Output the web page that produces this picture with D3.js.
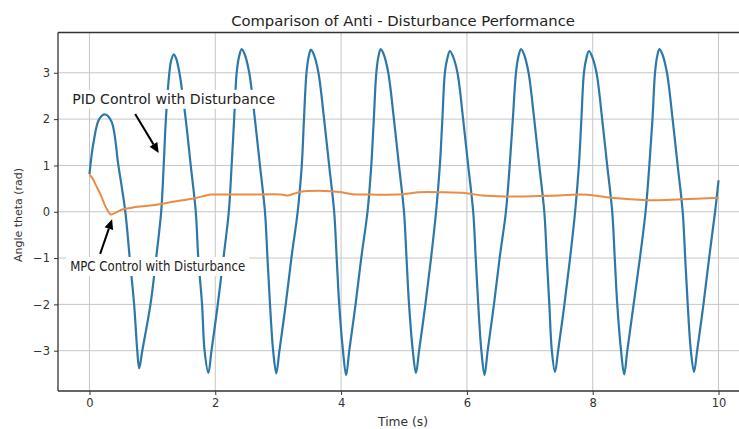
<!DOCTYPE html>
<html><head><meta charset="utf-8">
<script src="https://cdn.jsdelivr.net/npm/d3@7"></script>
<style>body{margin:0;background:#fff}svg{display:block}</style>
</head><body><svg id="c" width="739" height="429"></svg>
<script>
// ---- data ----
const pidTime = [
 0,0.065,0.155,0.25,0.35,0.46,0.57,0.64,0.71,0.76,0.79,
 0.84,0.97,1.06,1.14,1.18,1.215,1.27,1.30,1.34,1.38,1.43,1.53,1.61,1.69,1.73,1.79,1.83,1.89,
 1.94,2.04,2.13,2.215,2.26,2.30,2.34,2.38,2.42,2.47,2.54,2.63,2.71,2.79,2.83,2.87,2.92,2.97,
 3.02,3.12,3.21,3.31,3.375,3.41,3.45,3.485,3.52,3.57,3.64,3.73,3.81,3.89,3.93,3.97,4.03,4.08,
 4.13,4.23,4.32,4.42,4.48,4.52,4.56,4.595,4.63,4.68,4.75,4.84,4.92,5.00,5.04,5.08,5.14,5.19,
 5.24,5.34,5.43,5.51,5.57,5.61,5.65,5.69,5.73,5.78,5.85,5.94,6.02,6.10,6.14,6.18,6.23,6.28,
 6.33,6.43,6.52,6.62,6.68,6.73,6.78,6.82,6.86,6.91,6.98,7.07,7.15,7.23,7.27,7.31,7.35,7.40,
 7.45,7.55,7.64,7.72,7.78,7.82,7.86,7.90,7.94,7.99,8.06,8.15,8.23,8.31,8.35,8.39,8.45,8.50,
 8.55,8.65,8.75,8.84,8.90,8.95,8.99,9.025,9.06,9.11,9.18,9.27,9.35,9.43,9.47,9.51,9.56,9.61,
 9.66,9.76,9.85,9.945,10.0
];
const pidAngle = [
 0.81,1.5,2.0,2.10,1.95,1.0,0.0,-1.0,-2.0,-3.0,-3.38,
 -3.0,-2.0,-1.0,0.0,1.0,2.0,3.0,3.27,3.40,3.30,3.0,2.0,1.0,0.0,-1.0,-2.0,-3.0,-3.48,
 -3.0,-2.0,-1.0,0.0,1.0,2.0,3.0,3.36,3.51,3.39,3.0,2.0,1.0,0.0,-1.0,-2.0,-3.0,-3.49,
 -3.0,-2.0,-1.0,0.0,1.0,2.0,3.0,3.35,3.50,3.38,3.0,2.0,1.0,0.0,-1.0,-2.0,-3.0,-3.53,
 -3.0,-2.0,-1.0,0.0,1.0,2.0,3.0,3.36,3.51,3.39,3.0,2.0,1.0,0.0,-1.0,-2.0,-3.0,-3.48,
 -3.0,-2.0,-1.0,0.0,1.0,2.0,3.0,3.32,3.47,3.35,3.0,2.0,1.0,0.0,-1.0,-2.0,-3.0,-3.53,
 -3.0,-2.0,-1.0,0.0,1.0,2.0,3.0,3.36,3.51,3.39,3.0,2.0,1.0,0.0,-1.0,-2.0,-3.0,-3.46,
 -3.0,-2.0,-1.0,0.0,1.0,2.0,3.0,3.32,3.47,3.35,3.0,2.0,1.0,0.0,-1.0,-2.0,-3.0,-3.51,
 -3.0,-2.0,-1.0,0.0,1.0,2.0,3.0,3.36,3.51,3.39,3.0,2.0,1.0,0.0,-1.0,-2.0,-3.0,-3.46,
 -3.0,-2.0,-1.0,0.0,0.68
];
const mpcTime = [0,0.05,0.10,0.18,0.26,0.34,0.40,0.47,0.55,0.71,1.03,1.35,1.67,1.85,1.93,2.46,3.04,3.10,3.15,3.25,3.36,3.73,3.97,4.18,4.45,4.98,5.24,5.62,5.99,6.25,6.62,7.15,7.47,7.82,8.03,8.29,8.88,9.41,10.0];
const mpcAngle = [0.80,0.72,0.58,0.36,0.10,-0.06,-0.03,0.02,0.06,0.095,0.145,0.22,0.29,0.35,0.37,0.37,0.375,0.36,0.35,0.39,0.43,0.45,0.425,0.38,0.37,0.38,0.42,0.42,0.40,0.35,0.33,0.34,0.35,0.37,0.35,0.30,0.25,0.27,0.30];

const xTicks = [0,2,4,6,8,10];
const yTicks = [-3,-2,-1,0,1,2,3];
const titleText = "Comparison of Anti - Disturbance Performance";
const xLabelText = "Time (s)";
const yLabelText = "Angle theta (rad)";
const annotationLabels = ["PID Control with Disturbance","MPC Control with Disturbance"];
const annotationTextAt = [[-0.275,2.33],[-0.307,-1.28]];
const arrowTail = [[0.727,2.11],[0.17,-0.91]];
const arrowTip = [[1.10,1.27],[0.36,-0.16]];

// ---- layout ----
const L=58, R=750, T=32.5, B=391;
const svg = d3.select("#c");
const x = d3.scaleLinear().domain([-0.5,10.5]).range([L,R]);
const y = d3.scaleLinear().domain([-3.87,3.87]).range([B,T]);
const FONT = "DejaVu Sans, Verdana, sans-serif";
const BLUE = "#2c78a8", ORANGE = "#e98c45";

svg.append("rect").attr("width",739).attr("height",429).attr("fill","#fff");
svg.append("defs").append("clipPath").attr("id","clip")
  .append("rect").attr("x",L).attr("y",T).attr("width",R-L).attr("height",B-T);

// grid
const grid = svg.append("g");
grid.selectAll(".gx").data(xTicks).join("line")
  .attr("x1",d=>x(d)).attr("x2",d=>x(d)).attr("y1",T).attr("y2",B)
  .attr("stroke","#c6c6c6").attr("stroke-width",1);
grid.selectAll(".gy").data(yTicks).join("line")
  .attr("x1",L).attr("x2",R).attr("y1",d=>y(d)).attr("y2",d=>y(d))
  .attr("stroke","#c6c6c6").attr("stroke-width",1);

// lines
const lineGen = d3.line().x(d=>x(d[0])).y(d=>y(d[1])).curve(d3.curveCatmullRom.alpha(0.5));
const pidData = pidTime.map((t,i)=>[t,pidAngle[i]]);
const mpcData = mpcTime.map((t,i)=>[t,mpcAngle[i]]);
const plot = svg.append("g").attr("clip-path","url(#clip)");
plot.append("path").datum(pidData)
  .attr("d",lineGen).attr("fill","none")
  .attr("stroke",BLUE).attr("stroke-width",2.2).attr("stroke-linejoin","round");
plot.append("path").datum(mpcData)
  .attr("d",lineGen).attr("fill","none")
  .attr("stroke",ORANGE).attr("stroke-width",2).attr("stroke-linejoin","round");

// axes
const xAxis = d3.axisBottom(x).tickValues(xTicks).tickSize(4).tickPadding(4).tickFormat(d3.format("d"));
const yAxis = d3.axisLeft(y).tickValues(yTicks).tickSize(4).tickPadding(4).tickFormat(d=> d<0 ? "\u2212"+Math.abs(d) : String(d));
const gx = svg.append("g").attr("transform",`translate(0,${B})`).call(xAxis);
const gy = svg.append("g").attr("transform",`translate(${L},0)`).call(yAxis);
[gx,gy].forEach(g=>{
  g.select(".domain").remove();
  g.selectAll(".tick line").attr("stroke","#333").attr("stroke-width",1);
  g.selectAll(".tick text").attr("font-family",FONT).attr("font-size",11.5).attr("fill","#333");
});
// spines
svg.append("line").attr("x1",L).attr("x2",L).attr("y1",T).attr("y2",B).attr("stroke","#333").attr("stroke-width",1.3);
svg.append("line").attr("x1",L).attr("x2",R).attr("y1",B).attr("y2",B).attr("stroke","#333").attr("stroke-width",1.3);
svg.append("line").attr("x1",L).attr("x2",R).attr("y1",T).attr("y2",T).attr("stroke","#333").attr("stroke-width",1.3);

function fit(sel, target, base){
  sel.attr("font-size",base);
  const w = sel.node().getComputedTextLength();
  sel.attr("font-size", base*target/w);
}

// title & labels
const title = svg.append("text").attr("x",403).attr("y",26).attr("text-anchor","middle")
  .attr("font-family",FONT).attr("fill","#222").text(titleText);
fit(title,344,14);
const xl = svg.append("text").attr("x",403).attr("y",426).attr("text-anchor","middle")
  .attr("font-family",FONT).attr("fill","#333").text(xLabelText);
fit(xl,50,11.5);
const yl = svg.append("text").attr("transform","translate(22,215) rotate(-90)").attr("text-anchor","middle")
  .attr("font-family",FONT).attr("fill","#333").text(yLabelText);
fit(yl,94,11.5);

// annotations
const widths = [203,175];
annotationLabels.forEach((lab,i)=>{
  const g = svg.append("g");
  const [ax,ay] = arrowTail[i], [bx,by] = arrowTip[i];
  const x1=x(ax), y1=y(ay), x2=x(bx), y2=y(by);
  const ang = Math.atan2(y2-y1,x2-x1), hl=10, hw=4.5;
  const bxp = x2 - hl*Math.cos(ang), byp = y2 - hl*Math.sin(ang);
  g.append("line").attr("x1",x1).attr("y1",y1).attr("x2",bxp).attr("y2",byp)
    .attr("stroke","#000").attr("stroke-width",2);
  const px = -Math.sin(ang), py = Math.cos(ang);
  g.append("path").attr("d",`M${x2},${y2}L${bxp+px*hw},${byp+py*hw}L${bxp-px*hw},${byp-py*hw}Z`).attr("fill","#000");
  const tx = x(annotationTextAt[i][0]), ty = y(annotationTextAt[i][1]);
  const box = g.append("rect").attr("fill","#fff");
  g.append("text").attr("x",tx).attr("y",ty).attr("font-family",FONT)
    .attr("font-size",13.5).attr("fill","#222").attr("textLength",widths[i])
    .attr("lengthAdjust","spacingAndGlyphs").text(lab);
  box.attr("x",tx-4).attr("y",ty-14).attr("width",widths[i]+8).attr("height",19);
});
</script></body></html>
